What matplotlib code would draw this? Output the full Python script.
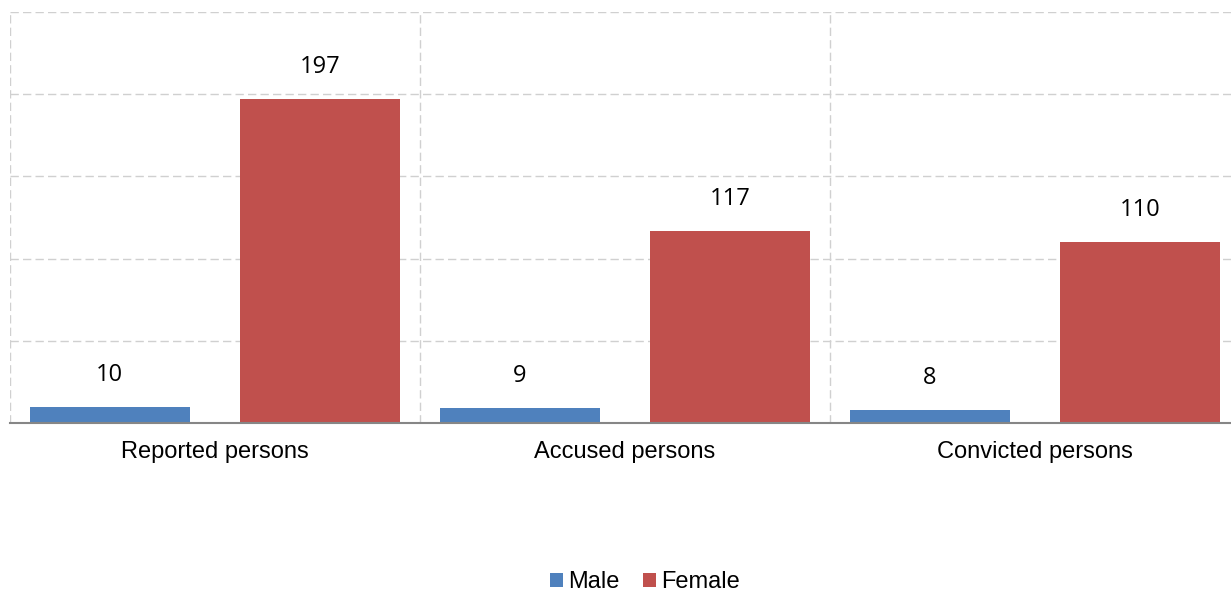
import numpy as np
import matplotlib.pyplot as plt
from matplotlib.ticker import MultipleLocator, FixedLocator

categories = ["Reported persons", "Accused persons", "Convicted persons"]
male = [10, 9, 8]
female = [197, 117, 110]

cMale = "#4F81BD"
cFemale = "#C0504D"


def main():
    fig = plt.figure(figsize=(12.31, 5.92), dpi=100)
    ax = fig.add_axes([10 / 1231, 169 / 592, 1230 / 1231, 411 / 592])

    x = np.arange(len(categories))
    off = 0.257
    w = 0.39
    barsM = ax.bar(x - off, male, w, color=cMale, label="Male", zorder=3)
    barsF = ax.bar(x + off, female, w, color=cFemale, label="Female", zorder=3)

    for bars in (barsM, barsF):
        for b in bars:
            ax.annotate(str(int(b.get_height())),
                        xy=(b.get_x() + b.get_width() / 2, b.get_height()),
                        xytext=(0, 23), textcoords="offset points",
                        ha="center", va="center", fontsize=17,
                        family="Open Sans", color="#000000")

    ax.set_xlim(-0.5, 2.5)
    ax.set_ylim(0, 250)
    ax.yaxis.set_major_locator(MultipleLocator(50))
    ax.set_yticklabels([])
    ax.tick_params(axis="y", length=0)
    ax.xaxis.set_minor_locator(FixedLocator([-0.5, 0.5, 1.5, 2.5]))
    ax.set_xticks(x)
    ax.set_xticklabels(categories, fontsize=17, family="Liberation Sans")
    ax.tick_params(axis="x", which="both", length=0, pad=13)

    ax.grid(axis="y", which="major", color="#D0D0D0", linestyle=(0, (6, 3)), linewidth=1, zorder=0)
    ax.grid(axis="x", which="minor", color="#D0D0D0", linestyle=(0, (6, 3)), linewidth=1, zorder=0)

    for s in ("top", "right", "left"):
        ax.spines[s].set_visible(False)
    ax.spines["bottom"].set_color("#868686")
    ax.spines["bottom"].set_linewidth(1.5)
    ax.spines["bottom"].set_zorder(4)

    fig.legend(handles=[barsM, barsF], loc="center", bbox_to_anchor=(645 / 1231, 1 - 582 / 592),
               ncol=2, frameon=False, prop={"family": "Liberation Sans", "size": 17},
               handlelength=0.55, handleheight=0.55, handletextpad=0.2, columnspacing=1.0)

    fig.savefig("out.png", dpi=100)


if __name__ == "__main__":
    main()
